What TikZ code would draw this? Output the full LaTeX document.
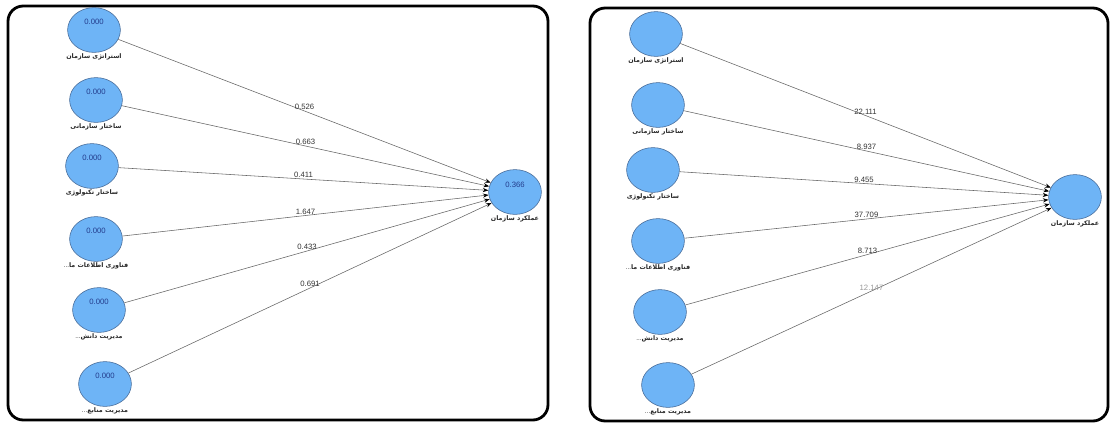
\documentclass[tikz,border=0pt]{standalone}
\usepackage{fontspec}
\setmainfont{Liberation Sans}
\newfontfamily\persianfont[Script=Arabic]{DejaVu Sans}
\TeXXeTstate=1
\usepackage{xcolor}
\usetikzlibrary{
	arrows.meta,
	shapes.geometric,
	positioning
}
\definecolor{latentfill}{RGB}{110,180,246}
\definecolor{latentdraw}{RGB}{70,105,150}
\definecolor{valuetext}{RGB}{35,60,140}
\tikzset{every path/.append style={line width=0.4pt}}
\tikzset{
	latent/.style={ellipse,draw=latentdraw,fill=latentfill,minimum width=1.32cm,minimum height=1.12cm,inner sep=0pt},
	latentlabel/.style={font=\persianfont\bfseries\fontsize{4.5}{5}\selectfont,inner sep=0.5pt,text=black!85},
	value/.style={font=\fontsize{5.5}{6}\selectfont,text=valuetext,inner sep=0pt},
	weight/.style={font=\fontsize{5.5}{6}\selectfont,inner sep=0.5pt,anchor=south,text=black!80},
	edge/.style={draw=black!60,-{Stealth[length=4pt,width=3pt,black]}},
	panel/.style={draw=black,line width=2pt,rounded corners=0.38cm}
}
\newcommand{\tikzLatent}[4][]{\node (#3) at #2 [latent,#1]{};
	\node (#3l) [latentlabel,below=0pt of #3] {#4};}
\newcommand{\fa}[1]{\hbox{\beginR #1\endR}}
\newcommand{\cut}{\hbox{\normalfont\fontsize{4.5}{5}\selectfont...}}

\begin{document}
\begin{tikzpicture}[x=0.025cm,y=-0.025cm]
	\useasboundingbox (0,0) rectangle (1113,423);
	% two panels
	\draw[panel] (8,6) rectangle (548,420);
	\draw[panel] (590,8) rectangle (1108,421);
	
	% left model
	\tikzLatent{(94,30)}{l1}{\fa{استراتژی سازمان}}
	\tikzLatent{(96,100)}{l2}{\fa{ساختار سازمانی}}
	\tikzLatent{(92,166)}{l3}{\fa{ساختار تکنولوژی}}
	\tikzLatent{(96,239)}{l4}{\cut\fa{فناوری اطلاعات ما}}
	\tikzLatent{(99,310)}{l5}{\cut\fa{مدیریت دانش}}
	\tikzLatent{(105,384)}{l6}{\cut\fa{مدیریت منابع}}
	\tikzLatent{(515,192)}{lt}{\fa{عملکرد سازمان}}
	
	\node (l1v) [value] at ([yshift=0.2cm]l1.center) {0.000};
	\node (l2v) [value] at ([yshift=0.2cm]l2.center) {0.000};
	\node (l3v) [value] at ([yshift=0.2cm]l3.center) {0.000};
	\node (l4v) [value] at ([yshift=0.2cm]l4.center) {0.000};
	\node (l5v) [value] at ([yshift=0.2cm]l5.center) {0.000};
	\node (l6v) [value] at ([yshift=0.2cm]l6.center) {0.000};
	\node (ltv) [value] at ([yshift=0.17cm]lt.center) {0.366};
	
	\draw[edge] (l1) -- node[weight] {0.526} (lt);
	\draw[edge] (l2) -- node[weight] {0.663} (lt);
	\draw[edge] (l3) -- node[weight] {0.411} (lt);
	\draw[edge] (l4) -- node[weight] {1.647} (lt);
	\draw[edge] (l5) -- node[weight] {0.433} (lt);
	\draw[edge] (l6) -- node[weight] {0.691} (lt);
	
	% right model
	\tikzLatent{(656,34)}{r1}{\fa{استراتژی سازمان}}
	\tikzLatent{(658,105)}{r2}{\fa{ساختار سازمانی}}
	\tikzLatent{(653,170)}{r3}{\fa{ساختار تکنولوژی}}
	\tikzLatent{(658,241)}{r4}{\cut\fa{فناوری اطلاعات ما}}
	\tikzLatent{(660,312)}{r5}{\cut\fa{مدیریت دانش}}
	\tikzLatent{(668,385)}{r6}{\cut\fa{مدیریت منابع}}
	\tikzLatent{(1075,197)}{rt}{\fa{عملکرد سازمان}}
	
	\draw[edge] (r1) -- node[weight] {22.111} (rt);
	\draw[edge] (r2) -- node[weight] {8.937} (rt);
	\draw[edge] (r3) -- node[weight] {9.455} (rt);
	\draw[edge] (r4) -- node[weight] {37.709} (rt);
	\draw[edge] (r5) -- node[weight] {8.713} (rt);
	\draw[edge] (r6) -- node[weight,text=black!40] {12.147} (rt);
\end{tikzpicture}
\end{document}
